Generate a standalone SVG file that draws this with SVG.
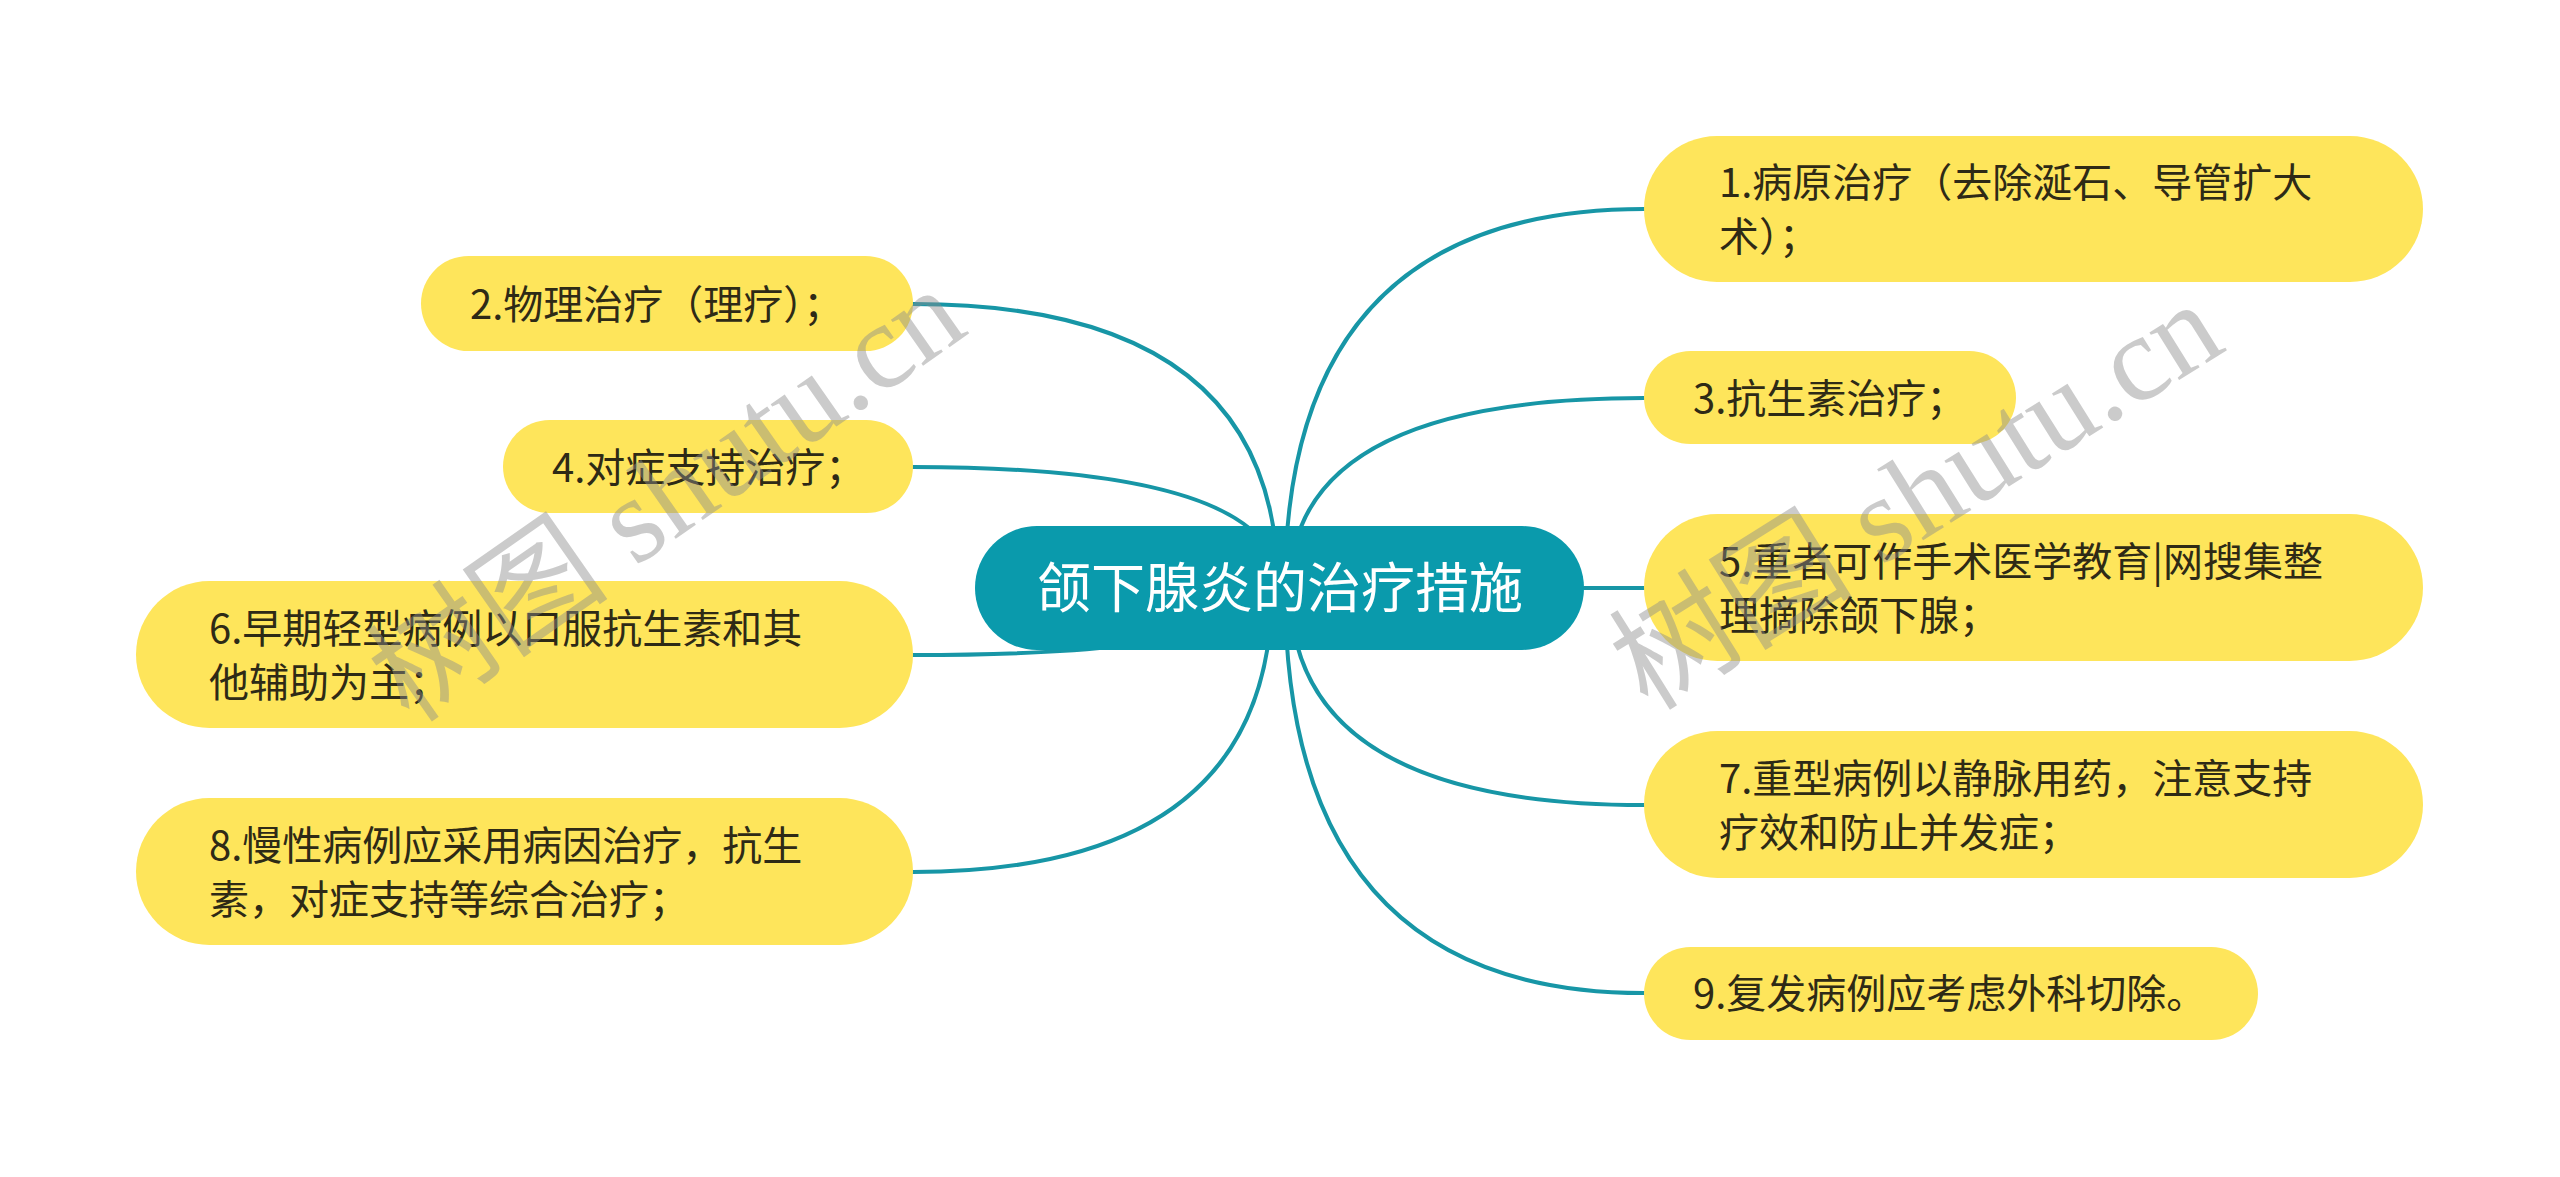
<svg xmlns="http://www.w3.org/2000/svg" width="2560" height="1177" viewBox="0 0 2560 1177">
<style>
.link{fill:none;stroke:#1796a6;stroke-width:4;stroke-linecap:round}
.sub rect{fill:#fee55b}
.sub text{font-family:"Noto Sans CJK SC","Noto Sans",sans-serif;font-size:40px;fill:#2e2a16}
.root rect{fill:#0a9aac}
.root text{font-family:"Noto Sans CJK SC","Noto Sans",sans-serif;font-size:54px;fill:#ffffff;text-anchor:middle}
.wm{font-family:"Liberation Serif","Noto Sans CJK SC",serif;font-size:122px;fill:#8c8c8c;fill-opacity:0.45}
</style>
<rect width="2560" height="1177" fill="#ffffff"/>
<g id="connectors">
<path class="link" d="M1285,588 Q1285,209 1644,209"/>
<path class="link" d="M1290,588 Q1290,398 1644,398"/>
<path class="link" d="M1584,588 L1644,588"/>
<path class="link" d="M1290,588 Q1290,805 1644,805"/>
<path class="link" d="M1285,588 Q1285,993 1644,993"/>
<path class="link" d="M1278,588 Q1278,304 913,304"/>
<path class="link" d="M1280,588 Q1280,467 913,467"/>
<path class="link" d="M1260,588 Q1260,655 913,655"/>
<path class="link" d="M1272,588 Q1272,872 913,872"/>
</g>
<g id="root" class="root">
<rect x="975" y="526" width="609" height="124" rx="62"/>
<text x="1280" y="608">颌下腺炎的治疗措施</text>
</g>
<g id="n1" class="sub">
<rect x="1644" y="136" width="779" height="146" rx="73"/>
<text x="1719" y="197">1.病原治疗（去除涎石、导管扩大</text>
<text x="1719" y="251">术）；</text>
</g>
<g id="n3" class="sub">
<rect x="1644" y="351" width="372" height="93" rx="46.5"/>
<text x="1693" y="413">3.抗生素治疗；</text>
</g>
<g id="n5" class="sub">
<rect x="1644" y="514" width="779" height="147" rx="73.5"/>
<text x="1719" y="576">5.重者可作手术医学教育|网搜集整</text>
<text x="1719" y="630">理摘除颌下腺；</text>
</g>
<g id="n7" class="sub">
<rect x="1644" y="731" width="779" height="147" rx="73.5"/>
<text x="1719" y="793">7.重型病例以静脉用药，注意支持</text>
<text x="1719" y="847">疗效和防止并发症；</text>
</g>
<g id="n9" class="sub">
<rect x="1644" y="947" width="614" height="93" rx="46.5"/>
<text x="1693" y="1008">9.复发病例应考虑外科切除。</text>
</g>
<g id="n2" class="sub">
<rect x="421" y="256" width="492" height="95" rx="47.5"/>
<text x="470" y="319">2.物理治疗（理疗）；</text>
</g>
<g id="n4" class="sub">
<rect x="503" y="420" width="410" height="93" rx="46.5"/>
<text x="552" y="482">4.对症支持治疗；</text>
</g>
<g id="n6" class="sub">
<rect x="136" y="581" width="777" height="147" rx="73.5"/>
<text x="209" y="643">6.早期轻型病例以口服抗生素和其</text>
<text x="209" y="697">他辅助为主；</text>
</g>
<g id="n8" class="sub">
<rect x="136" y="798" width="777" height="147" rx="73.5"/>
<text x="209" y="860">8.慢性病例应采用病因治疗，抗生</text>
<text x="209" y="914">素，对症支持等综合治疗；</text>
</g>
<g id="watermarks">
<text class="wm" x="410" y="725" transform="rotate(-35 410 725)">树图 shutu.cn</text>
<text class="wm" x="1648" y="712" transform="rotate(-32 1648 712)">树图 shutu.cn</text>
</g>
</svg>
